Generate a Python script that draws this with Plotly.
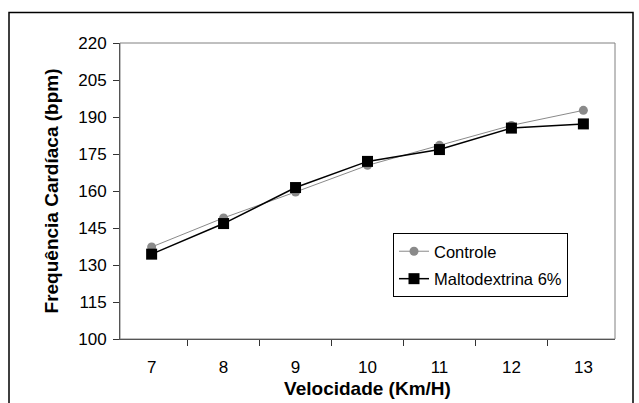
import plotly.graph_objects as go

velocidade = ["7", "8", "9", "10", "11", "12", "13"]
controle = [137.3, 149.1, 159.6, 170.4, 178.5, 186.6, 192.7]
maltodextrina = [134.4, 146.8, 161.4, 172.0, 176.8, 185.5, 187.2]
y_ticks = [100, 115, 130, 145, 160, 175, 190, 205, 220]

FONT = "Liberation Sans, Arial, sans-serif"
W, H = 639, 403
L, R, T, B = 120, 24, 43, 64
pw, ph = W - L - R, H - T - B

fig = go.Figure()
fig.add_trace(go.Scatter(
    x=velocidade, y=controle, name="Controle", mode="lines+markers",
    line=dict(color="#8a8a8a", width=1),
    marker=dict(symbol="circle", size=9, color="#8a8a8a"),
    legendgroup="a",
))
fig.add_trace(go.Scatter(
    x=velocidade, y=maltodextrina, name="Maltodextrina 6%", mode="lines+markers",
    line=dict(color="#000000", width=1.5),
    marker=dict(symbol="square", size=11, color="#000000"),
    legendgroup="b",
))

def px_x(p):
    return (p - L) / pw

def px_y(p):
    return (H - B - p) / ph

fig.update_layout(
    width=W, height=H,
    margin=dict(l=L, r=R, t=T, b=B, autoexpand=False),
    paper_bgcolor="white", plot_bgcolor="white",
    font=dict(family=FONT, size=17, color="black"),
    showlegend=True,
    legend=dict(
        x=px_x(393), y=px_y(233), xanchor="left", yanchor="top",
        bordercolor="black", borderwidth=1, bgcolor="white",
        font=dict(family=FONT, size=16.5, color="black"),
        tracegroupgap=3, itemwidth=30,
    ),
    xaxis=dict(
        type="category", tickson="boundaries", automargin=False,
        showline=True, linecolor="#555555", linewidth=1, mirror=False,
        ticks="outside", ticklen=6, tickcolor="#333333",
        showgrid=False, zeroline=False,
        ticklabelstandoff=13,
        title=dict(text="<b>Velocidade (Km/H)</b>", font=dict(size=19), standoff=5),
    ),
    yaxis=dict(
        range=[100, 220], tickvals=y_ticks, automargin=False,
        showline=True, linecolor="#555555", linewidth=1,
        ticks="outside", ticklen=6, tickcolor="#333333",
        showgrid=False, zeroline=False,
        ticklabelstandoff=3,
        title=dict(text="<b>Frequência Cardíaca (bpm)</b>", font=dict(size=19), standoff=14),
    ),
    shapes=[
        dict(type="rect", xref="paper", yref="paper", x0=0, x1=1, y0=0, y1=1,
             line=dict(color="#808080", width=1), layer="below"),
        dict(type="rect", xref="paper", yref="paper",
             x0=px_x(9), x1=px_x(633), y0=px_y(420), y1=px_y(12.5),
             line=dict(color="black", width=1.5), layer="below"),
    ],
)

fig.write_html("out.html")
